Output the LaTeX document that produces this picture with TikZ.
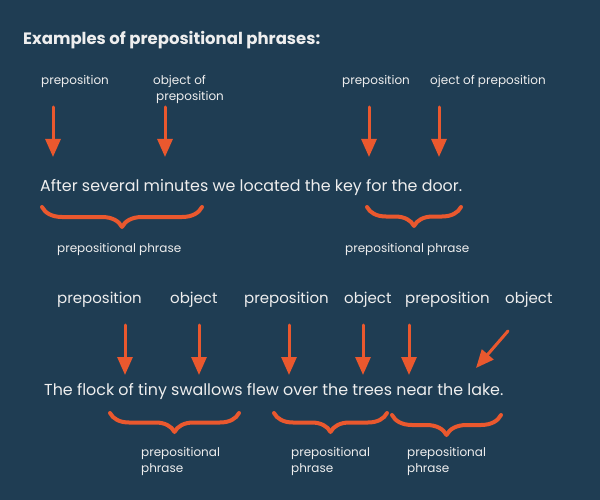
\documentclass[tikz,border=0pt]{standalone}
\usepackage{fontspec}
\setmainfont{Poppins}
\usetikzlibrary{arrows.meta,decorations.pathreplacing}
\definecolor{bgblue}{RGB}{31,61,83}
\definecolor{arrorange}{RGB}{234,88,46}
\definecolor{txtwhite}{RGB}{238,238,238}

\begin{document}
\begin{tikzpicture}[line cap=round,line join=round,x=1pt,y=-1pt,
    lbl/.style={anchor=base west,inner sep=0pt,text=txtwhite,font=\fontsize{12}{16}\selectfont},
    biglbl/.style={lbl,font=\fontsize{15}{16}\selectfont},
    sent/.style={lbl,font=\fontsize{15.9}{18}\selectfont},
    ttl/.style={lbl,font=\fontsize{16.5}{18}\selectfont\bfseries},
    arr/.style={arrorange,line width=3pt,-{Triangle[width=15pt,length=18pt]}},
    brc/.style={arrorange,line width=4pt,decorate,decoration={brace,mirror,amplitude=#1}}]
%background
\fill[bgblue] (0,0) rectangle (600,500);
%title
\node[ttl] at (23,45) (title) {Examples of prepositional phrases:};
%%%%labels sentence 1
\node[lbl] at (41,85) (prepA) {preposition};
\node[lbl,align=left] at (153,101) (objA) {object of\\\hspace{3pt}preposition};%base = last line
\node[lbl] at (342,85) (prepB) {preposition};
\node[lbl] at (430,85) (objB) {oject of preposition};
%sentence 1
\node[sent] at (40,192) (sentA) {After several minutes we located the key for the door.};
\node[lbl] at (57,252) (phrA) {prepositional phrase};
\node[lbl] at (345,252) (phrB) {prepositional phrase};
%%%%labels sentence 2
\node[biglbl] at (57,303) (prepC) {preposition};
\node[biglbl] at (170,303) (objC) {object};
\node[biglbl] at (244,303) (prepD) {preposition};
\node[biglbl] at (344,303) (objD) {object};
\node[biglbl] at (405,303) (prepE) {preposition};
\node[biglbl] at (505,303) (objE) {object};
%sentence 2
\node[sent] at (44,395) (sentB) {The flock of tiny swallows flew over the trees near the lake.};
\node[lbl,align=left] at (141,472) (phrC) {prepositional\\phrase};
\node[lbl,align=left] at (291,472) (phrD) {prepositional\\phrase};
\node[lbl,align=left] at (407,472) (phrE) {prepositional\\phrase};
%%%arrow ends
\coordinate (aA1) at (53,107);   \coordinate (aA2) at (53,157);%preposition
\coordinate (aB1) at (165,107);  \coordinate (aB2) at (165,157);%object of
\coordinate (aC1) at (369,107);  \coordinate (aC2) at (369,157);%preposition
\coordinate (aD1) at (439,107);  \coordinate (aD2) at (439,157);%oject of
\coordinate (aE1) at (125,325);  \coordinate (aE2) at (125,375);
\coordinate (aF1) at (199,325);  \coordinate (aF2) at (199,375);
\coordinate (aG1) at (289,325);  \coordinate (aG2) at (289,375);
\coordinate (aH1) at (363,325);  \coordinate (aH2) at (363,375);
\coordinate (aI1) at (409,325);  \coordinate (aI2) at (409,375);
\coordinate (aJ1) at (508,331);  \coordinate (aJ2) at (476,368);%slanted one
%%%arrows
\draw[arr] (aA1) -- (aA2);
\draw[arr] (aB1) -- (aB2);
\draw[arr] (aC1) -- (aC2);
\draw[arr] (aD1) -- (aD2);
\draw[arr] (aE1) -- (aE2);
\draw[arr] (aF1) -- (aF2);
\draw[arr] (aG1) -- (aG2);
\draw[arr] (aH1) -- (aH2);
\draw[arr] (aI1) -- (aI2);
\draw[arr] (aJ1) -- (aJ2);
%%%brace ends
\coordinate (bA1) at (42,207);   \coordinate (bA2) at (202,207);
\coordinate (bB1) at (367,207);  \coordinate (bB2) at (461,207);
\coordinate (bC1) at (110,413);  \coordinate (bC2) at (239,413);
\coordinate (bD1) at (274,413);  \coordinate (bD2) at (387,413);
\coordinate (bE1) at (392,415);  \coordinate (bE2) at (501,415);
%%%braces
\draw[brc=20pt] (bA1) -- (bA2);
\draw[brc=19pt] (bB1) -- (bB2);
\draw[brc=19pt] (bC1) -- (bC2);
\draw[brc=19pt] (bD1) -- (bD2);
\draw[brc=20pt] (bE1) -- (bE2);
\end{tikzpicture}
\end{document}
